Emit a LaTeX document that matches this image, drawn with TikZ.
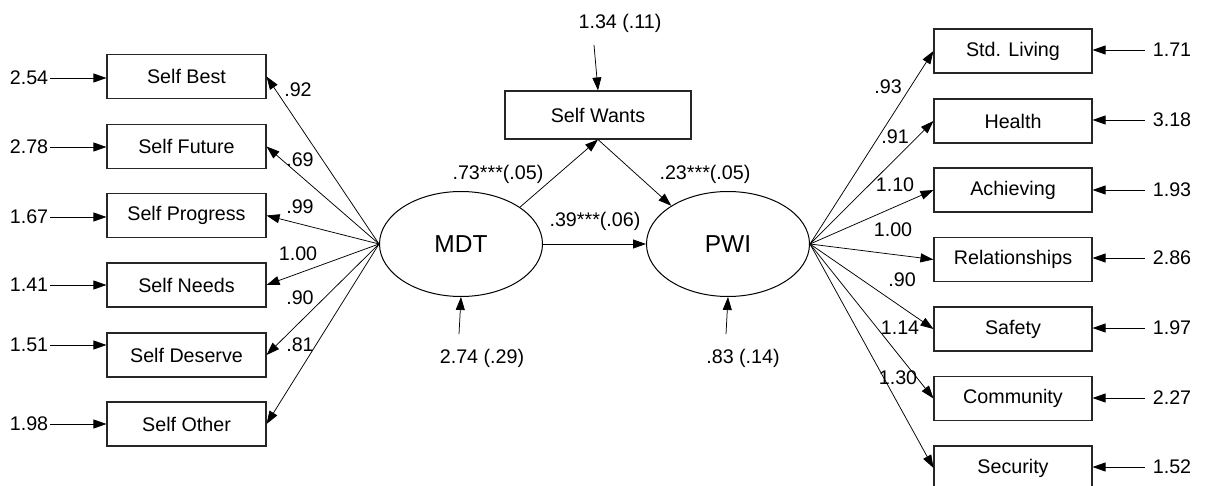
\documentclass[tikz,border=0pt]{standalone}
\usepackage{fontspec}
\setmainfont{Liberation Sans}
\usetikzlibrary{arrows.meta,shapes.geometric}
\begin{document}
\begin{tikzpicture}[x=1pt,y=-1pt,
  font=\fontsize{19.7}{23}\selectfont,
  obs/.style={draw=black!85,line width=1.1pt,rectangle,minimum height=44pt,inner sep=0pt},
  lobs/.style={obs,minimum width=159pt},
  robs/.style={obs,minimum width=158pt},
  latent/.style={draw=black,line width=1pt,ellipse,minimum width=163pt,minimum height=105pt,inner sep=0pt,font=\fontsize{24.5}{28}\selectfont},
  lbl/.style={inner sep=0pt},
  path/.style={draw=black,line width=0.75pt,-{Triangle[length=13pt,width=9pt]}}
]
\useasboundingbox (0,0) rectangle (1209,486);

% latent variables and mediator
\node[latent] (mdt) at (461,244) {MDT};
\node[latent] (pwi) at (728,244) {PWI};
\node[obs,minimum width=186pt,minimum height=48pt] (sw) at (598,115) {Self Wants};

% MDT indicators
\node[lobs] (l1) at (186.5,76.5) {Self Best};
\node[lobs] (l2) at (186.5,146.5) {Self Future};
\node[lobs] (l3) at (186.5,215.5) {Self Progress};
\node[lobs] (l4) at (186.5,285) {Self Needs};
\node[lobs] (l5) at (186.5,355) {Self Deserve};
\node[lobs] (l6) at (186.5,424) {Self Other};

% PWI indicators
\node[robs] (r1) at (1013,51) {Std. Living};
\node[robs] (r2) at (1013,121) {Health};
\node[robs] (r3) at (1013,190) {Achieving};
\node[robs] (r4) at (1013,259.5) {Relationships};
\node[robs] (r5) at (1013,329) {Safety};
\node[robs] (r6) at (1013,398.5) {Community};
\node[robs] (r7) at (1013,468) {Security};

% left error variances
\node[lbl] (el1) at (29,78) {2.54};
\node[lbl] (el2) at (29,147) {2.78};
\node[lbl] (el3) at (29,217) {1.67};
\node[lbl] (el4) at (29,285) {1.41};
\node[lbl] (el5) at (29,345) {1.51};
\node[lbl] (el6) at (29,424) {1.98};
\foreach \i in {1,...,6} \draw[path] ([xshift=2pt]el\i.east) -- (l\i.west |- el\i.east);

% right error variances
\node[lbl] (er1) at (1172,50) {1.71};
\node[lbl] (er2) at (1172,120) {3.18};
\node[lbl] (er3) at (1172,190) {1.93};
\node[lbl] (er4) at (1172,258) {2.86};
\node[lbl] (er5) at (1172,328) {1.97};
\node[lbl] (er6) at (1172,398) {2.27};
\node[lbl] (er7) at (1172,467) {1.52};
\foreach \i in {1,...,7} \draw[path] ([xshift=-8pt]er\i.west) -- (r\i.east |- er\i.west);

% loadings
\foreach \i in {1,...,6} \draw[path] (mdt.west) -- (l\i.east);
\foreach \i in {1,...,7} \draw[path] (pwi.east) -- (r\i.west);

\node[lbl] at (298,90) {.92};
\node[lbl] at (300,160) {.69};
\node[lbl] at (300,207) {.99};
\node[lbl] at (298,254) {1.00};
\node[lbl] at (300,298) {.90};
\node[lbl] at (300,345) {.81};

\node[lbl] at (888,87) {.93};
\node[lbl] at (895,137) {.91};
\node[lbl] at (895,185) {1.10};
\node[lbl] at (893,230) {1.00};
\node[lbl] at (902,280) {.90};
\node[lbl] at (900,328) {1.14};
\node[lbl] at (898,378) {1.30};

% structural paths
\draw[path] (mdt.32) -- (sw.south);
\draw[path] (sw.south) -- (pwi.146);
\draw[path] (mdt.east) -- (pwi.west);
\node[lbl] at (498,174) {.73***(.05)};
\node[lbl] at (705,174) {.23***(.05)};
\node[lbl] at (595,221) {.39***(.06)};

% disturbances
\node[lbl] (dsw) at (620,23) {1.34 (.11)};
\coordinate (dswa) at (594,45);
\draw[path] (dswa) -- (sw.north);
\node[lbl] (dm) at (482,358) {2.74 (.29)};
\coordinate (dma) at (459,334);
\draw[path] (dma) -- (mdt.south);
\node[lbl] (dp) at (743,358) {.83 (.14)};
\coordinate (dpa) at (726,334);
\draw[path] (dpa) -- (pwi.south);
\end{tikzpicture}
\end{document}
